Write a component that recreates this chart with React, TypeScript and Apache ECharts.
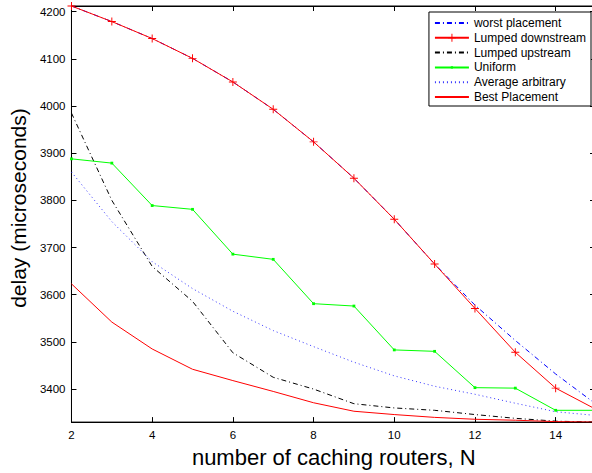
import React, { useEffect, useRef } from "react";
import * as echarts from "echarts";

// Number of caching routers
const routers = [2, 3, 4, 5, 6, 7, 8, 9, 10, 11, 12, 13, 14, 15];

// Delay (microseconds) per placement strategy
const worstPlacement = [4212, 4179, 4143, 4101, 4051, 3993, 3924, 3847, 3760, 3665, 3578, 3503, 3432, 3368];
const lumpedDownstream = [4212, 4179, 4143, 4101, 4051, 3993, 3924, 3847, 3760, 3665, 3571, 3478, 3402, 3357];
const lumpedUpstream = [3985, 3800, 3660, 3586, 3477, 3425, 3400, 3369, 3360, 3355, 3346, 3338, 3332, 3330];
const uniform = [3888, 3879, 3789, 3781, 3686, 3675, 3581, 3576, 3483, 3480, 3403, 3402, 3355, 3355];
const averageArbitrary = [3860, 3755, 3670, 3613, 3565, 3524, 3490, 3457, 3428, 3406, 3389, 3370, 3352, 3344];
const bestPlacement = [3623, 3542, 3485, 3442, 3418, 3395, 3371, 3353, 3346, 3340, 3336, 3334, 3331, 3330];

const seriesNames = [
  "worst placement",
  "Lumped downstream",
  "Lumped upstream",
  "Uniform",
  "Average arbitrary",
  "Best Placement",
];

// series that carry markers in the legend
const withMarker = new Set(["Lumped downstream", "Uniform"]);

const FONT = "'Liberation Sans', Arial, Helvetica, sans-serif";

// "+" marker and a small "." marker (padded so the dot stays small)
const PLUS = "path://M4.4,0h1.2v4.4h4.4v1.2h-4.4v4.4h-1.2v-4.4h-4.4v-1.2h4.4z";
const DOT = "path://M0,0L0,0M10,10L10,10M3.6,3.6h2.8v2.8h-2.8z";

const pairs = (ys: number[]) => routers.map((n, i) => [n, ys[i]]);

export default function App() {
  const ref = useRef<HTMLDivElement>(null);

  useEffect(() => {
    if (!ref.current) return;
    const chart = echarts.init(ref.current, undefined, { renderer: "svg" });

    const dashDot = [5, 3, 1, 3];
    const baseLine = (name: string, data: number[], color: string, type: any, extra: any = {}) => ({
      name,
      type: "line",
      data: pairs(data),
      symbol: "none",
      lineStyle: { color, width: 1, type },
      itemStyle: { color },
      z: 2,
      ...extra,
    });

    const xCommon = {
      type: "value",
      min: 2,
      max: 15,
      interval: 2,
    };
    const yCommon = {
      type: "value",
      min: 3330,
      max: 4212,
      minInterval: 100,
      maxInterval: 100,
    };

    chart.setOption({
      animation: false,
      backgroundColor: "#fff",
      grid: {
        left: 60,
        right: 4,
        top: 6,
        bottom: 44,
        show: true,
        borderColor: "#000",
        borderWidth: 1,
        backgroundColor: "transparent",
      },
      xAxis: [
        {
          ...xCommon,
          position: "bottom",
          name: "number of caching routers, N",
          nameLocation: "middle",
          nameGap: 17,
          nameTextStyle: { fontSize: 22, color: "#000", fontFamily: FONT },
          axisLine: { show: true, lineStyle: { color: "#000", width: 1 } },
          axisTick: { show: true, inside: true, length: 5, lineStyle: { color: "#000" } },
          axisLabel: {
            color: "#000",
            fontSize: 11.5,
            fontFamily: FONT,
            margin: 7,
            showMaxLabel: false,
            formatter: (v: number) => String(v),
          },
          splitLine: { show: false },
        },
        {
          ...xCommon,
          position: "top",
          axisLine: { show: true, lineStyle: { color: "#000", width: 1 } },
          axisTick: { show: true, inside: true, length: 5, lineStyle: { color: "#000" } },
          axisLabel: { show: false },
          splitLine: { show: false },
        },
      ],
      yAxis: [
        {
          ...yCommon,
          position: "left",
          name: "delay (microseconds)",
          nameLocation: "middle",
          nameGap: 35,
          nameRotate: 90,
          nameTextStyle: {
            fontSize: 21,
            color: "#000",
            fontFamily: FONT,
            padding: [0, 0, 0, 12],
          },
          axisLine: { show: true, lineStyle: { color: "#000", width: 1 } },
          axisTick: { show: true, inside: true, length: 5, lineStyle: { color: "#000" } },
          axisLabel: {
            color: "#000",
            fontSize: 11.5,
            fontFamily: FONT,
            margin: 6,
            showMinLabel: false,
            showMaxLabel: false,
            formatter: (v: number) => String(v),
          },
          splitLine: { show: false },
        },
        {
          ...yCommon,
          position: "right",
          axisLine: { show: true, lineStyle: { color: "#000", width: 1 } },
          axisTick: { show: true, inside: true, length: 6, lineStyle: { color: "#000" } },
          axisLabel: { show: false },
          splitLine: { show: false },
        },
      ],
      legend: {
        orient: "vertical",
        right: 9,
        top: 12,
        backgroundColor: "#fff",
        borderColor: "#000",
        borderWidth: 1,
        borderRadius: 0,
        padding: [4, 5, 2, 5],
        itemWidth: 34,
        itemHeight: 10,
        itemGap: 0.8,
        textStyle: { fontSize: 12, color: "#000", fontFamily: FONT, lineHeight: 14 },
        data: seriesNames.map((name) =>
          withMarker.has(name) ? { name } : { name, itemStyle: { opacity: 0 } }
        ),
      },
      series: [
        baseLine(seriesNames[0], worstPlacement, "#0000ff", dashDot),
        baseLine(seriesNames[1], lumpedDownstream, "#ff0000", "solid", {
          symbol: PLUS,
          symbolSize: 8,
          showSymbol: true,
        }),
        baseLine(seriesNames[2], lumpedUpstream, "#000000", dashDot),
        baseLine(seriesNames[3], uniform, "#00ff00", "solid", {
          symbol: DOT,
          symbolSize: 10,
          showSymbol: true,
        }),
        baseLine(seriesNames[4], averageArbitrary, "#3333ff", [1, 3]),
        baseLine(seriesNames[5], bestPlacement, "#ff0000", "solid"),
      ],
    });

    return () => chart.dispose();
  }, []);

  return (
    <div
      style={{
        position: "fixed",
        left: 0,
        top: 0,
        width: 592,
        height: 473,
        overflow: "hidden",
        background: "#fff",
      }}
    >
      <div ref={ref} style={{ width: 600, height: 473 }} />
    </div>
  );
}
